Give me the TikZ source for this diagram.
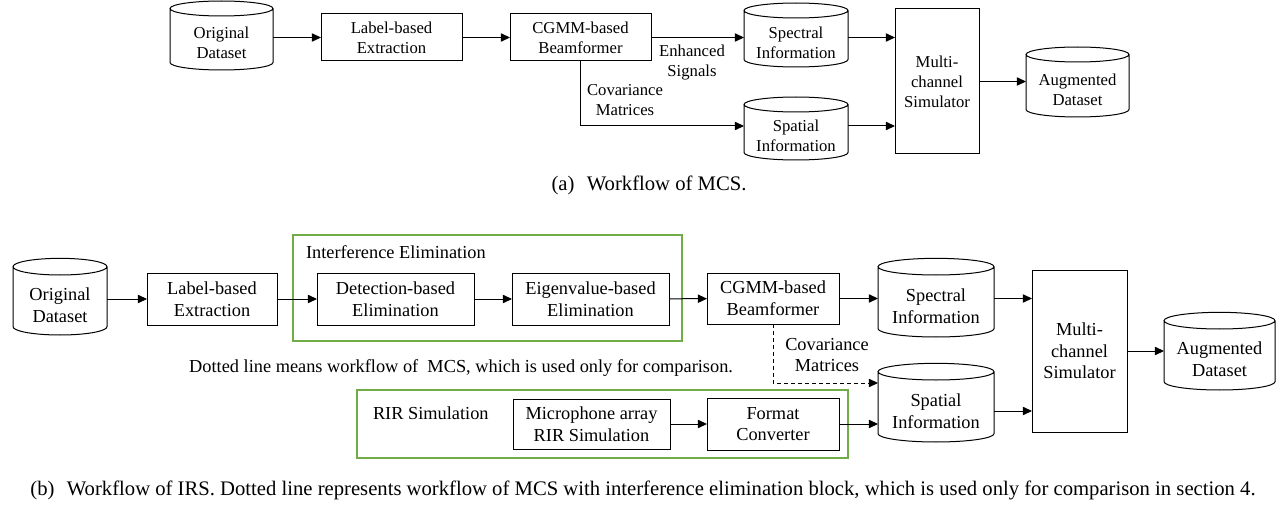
\documentclass[tikz,border=0pt]{standalone}
\usepackage{fontspec}
\setmainfont{Liberation Serif}
\usetikzlibrary{arrows.meta,calc}
\definecolor{frameGreen}{RGB}{112,173,71}

\begin{document}
\begin{tikzpicture}[x=0.6pt, y=-0.6pt, line width=0.6pt,
    every node/.style={align=center, inner sep=0pt, outer sep=0pt, font=\fontsize{10}{12}\selectfont},
    box/.style n args={2}{draw, minimum width=#1, minimum height=#2},
    db/.style n args={2}{minimum width=#1, minimum height=#2},
    arr/.style={-{Triangle[length=5.5pt,width=5pt]}},
    grp/.style={draw=frameGreen, line width=1.5pt}]
    \useasboundingbox (0,0) rectangle (1286,505);

    % Workflow of MCS
    \node[db={61.8pt}{32.4pt}] (origA) at (221.5,43) {Original\\Dataset};
    \node[box={84.6pt}{28.2pt}] (labelA) at (391.5,37.5) {Label-based\\Extraction};
    \node[box={84.6pt}{28.2pt}] (cgmmA) at (580.5,37.5) {CGMM-based\\Beamformer};
    \node[db={62.4pt}{29.4pt}] (specA) at (796,42.5) {Spectral\\Information};
    \node[db={62.4pt}{28.8pt}] (spatA) at (796,136) {Spatial\\Information};
    \node[box={50.4pt}{87pt}] (multiA) at (937,81.5) {Multi-\\channel\\Simulator};
    \node[db={61.8pt}{33pt}] (augA) at (1077.5,89.5) {Augmented\\Dataset};
    \node (enhA) at (692,63) {Enhanced\\Signals};
    \node (covtxtA) at (625,100) {Covariance\\Matrices};
    \coordinate (covA) at (744,126);

    \draw[arr] (origA.east |- labelA.west) -- (labelA.west);
    \draw[arr] (labelA) -- (cgmmA);
    \draw[arr] (cgmmA.east) -- (cgmmA.east -| specA.west);
    \draw[arr] (specA.east |- cgmmA.east) -- (cgmmA.east -| multiA.west);
    \draw[arr] (cgmmA.south) |- (covA);
    \draw[arr] (spatA.east |- covA) -- (covA -| multiA.west);
    \draw[arr] (multiA.east) -- (multiA.east -| augA.west);

    \node[font=\fontsize{12.4}{15}\selectfont] (capA) at (649,185) {(a)\hspace{0.6em}Workflow of MCS.};

    % Workflow of IRS
    \begin{scope}[every node/.append style={font=\fontsize{11}{13}\selectfont}]
    \draw[grp] (293,235) rectangle (682,341);
    \draw[grp] (357,390) rectangle (848,458);
    \node[anchor=west] (ieTitle) at (306,252) {Interference Elimination};
    \node[anchor=west] (rirTitle) at (373,413) {RIR Simulation};

    \node[db={56.4pt}{36pt}] (origB) at (60,305) {Original\\Dataset};
    \node[box={78pt}{31.2pt}] (labelB) at (212,299) {Label-based\\Extraction};
    \node[box={94.2pt}{31.2pt}] (detB) at (395.5,299) {Detection-based\\Elimination};
    \node[box={94.2pt}{31.2pt}] (eigB) at (590.5,299) {Eigenvalue-based\\Elimination};
    \node[box={79.2pt}{30.6pt}] (cgmmB) at (773,298.5) {CGMM-based\\Beamformer};
    \node[db={69.6pt}{37.2pt}] (specB) at (936,306) {Spectral\\Information};
    \node[db={69.6pt}{37.2pt}] (spatB) at (936,411) {Spatial\\Information};
    \node[box={57pt}{97.2pt}] (multiB) at (1079.5,351) {Multi-\\channel\\Simulator};
    \node[db={66.6pt}{36.6pt}] (augB) at (1219.5,359.5) {Augmented\\Dataset};
    \node[box={94.2pt}{30pt}] (micB) at (591.5,424) {Microphone array\\RIR Simulation};
    \node[box={79.2pt}{31.2pt}] (fmtB) at (773,424) {Format\\Converter};
    \node (covtxtB) at (827,355) {Covariance\\Matrices};
    \node[anchor=east] (noteB) at (733,368) {Dotted line means workflow of\ \ MCS, which is used only for comparison.};
    \coordinate (covB) at (878,383);

    \draw[arr] (origB.east |- labelB.west) -- (labelB.west);
    \draw[arr] (labelB) -- (detB);
    \draw[arr] (detB) -- (eigB);
    \draw[arr] (eigB) -- (cgmmB);
    \draw[arr] (cgmmB.east) -- (cgmmB.east -| specB.west);
    \draw[arr] (specB.east |- cgmmB.east) -- (cgmmB.east -| multiB.west);
    \draw[arr, dashed, dash pattern=on 2.4pt off 1.8pt] (cgmmB.south) |- (covB);
    \draw[arr] (micB) -- (fmtB);
    \draw[arr] (fmtB.east) -- (fmtB.east -| spatB.west);
    \draw[arr] (spatB.east) -- (spatB.east -| multiB.west);
    \draw[arr] (multiB.east) -- (multiB.east -| augB.west);
    \end{scope}

    \node[font=\fontsize{12.4}{15}\selectfont] (capB) at (643,490) {(b)\hspace{0.6em}Workflow of IRS. Dotted line represents workflow of MCS with interference elimination block, which is used only for comparison in section 4.};

    % database outlines
    \foreach \c/\ry in {origA/4.5pt, specA/4.5pt, spatA/4.5pt, augA/4.5pt, origB/5pt, specB/5pt, spatB/5pt, augB/5pt} {
        \draw let \p1=($(\c.east)-(\c.west)$) in
            ([yshift=\ry]\c.north west) -- ([yshift=\ry]\c.south west)
            arc[start angle=180, end angle=360, x radius=0.5*\x1, y radius=\ry]
            -- ([yshift=\ry]\c.north east)
            ([yshift=\ry]\c.north) ellipse[x radius=0.5*\x1, y radius=\ry];
    }
\end{tikzpicture}
\end{document}
